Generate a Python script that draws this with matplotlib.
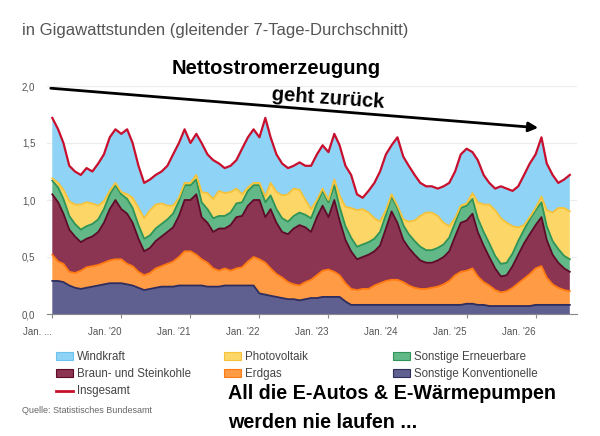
import numpy as np
import pandas as pd
import matplotlib
matplotlib.use('Agg')
import matplotlib.pyplot as plt
from matplotlib.patches import Patch, FancyArrowPatch
from matplotlib.lines import Line2D

plt.rcParams['font.family'] = ['Liberation Sans', 'DejaVu Sans']

# monthly readings (GWh, 7-day average), Jan 2019 .. Jul 2026
months = pd.date_range('2019-01-01', periods=91, freq='MS')

konventionelle = [
    .29, .29, .28, .25, .23, .22, .23, .24, .25, .26, .27, .27,
    .27, .26, .25, .23, .21, .22, .23, .24, .24, .24, .25, .25,
    .25, .25, .25, .24, .24, .24, .25, .25, .25, .25, .25, .25,
    .18, .17, .16, .15, .14, .13, .13, .12, .13, .14, .14, .15,
    .15, .15, .15, .11, .08, .08, .08, .08, .08, .08, .08, .08,
    .08, .08, .08, .08, .08, .08, .08, .08, .08, .08, .08, .08,
    .09, .09, .08, .08, .07, .07, .07, .07, .07, .07, .07, .07,
    .08, .08, .08, .08, .08, .08, .08]
erdgas = [
    .23, .17, .16, .12, .13, .16, .18, .18, .18, .19, .20, .21,
    .21, .18, .17, .14, .13, .14, .17, .18, .20, .22, .25, .30,
    .30, .27, .23, .21, .16, .14, .15, .13, .15, .16, .21, .25,
    .30, .28, .24, .20, .18, .15, .13, .13, .15, .16, .20, .23,
    .24, .22, .19, .16, .14, .13, .14, .14, .17, .19, .21, .22,
    .22, .20, .17, .15, .14, .14, .15, .16, .18, .21, .26, .29,
    .29, .31, .25, .20, .18, .14, .12, .13, .16, .20, .24, .28,
    .32, .34, .24, .18, .15, .13, .12]
kohle = [
    .53, .52, .44, .37, .32, .25, .25, .26, .29, .35, .45, .52,
    .44, .44, .38, .29, .21, .22, .24, .26, .28, .30, .36, .45,
    .45, .53, .37, .35, .32, .37, .35, .40, .45, .45, .49, .50,
    .52, .40, .52, .45, .40, .42, .49, .53, .48, .42, .51, .57,
    .46, .63, .48, .38, .33, .27, .28, .30, .30, .33, .46, .60,
    .50, .37, .33, .29, .25, .23, .22, .23, .24, .26, .34, .43,
    .44, .48, .39, .32, .25, .19, .14, .14, .19, .25, .31, .35,
    .38, .43, .33, .26, .22, .19, .17]
erneuerbare = [
    .12, .13, .13, .12, .11, .11, .11, .11, .11, .12, .13, .13,
    .13, .13, .13, .12, .11, .11, .11, .11, .11, .12, .13, .13,
    .13, .13, .13, .12, .12, .11, .11, .11, .12, .12, .13, .13,
    .13, .13, .12, .12, .12, .11, .11, .11, .11, .12, .12, .13,
    .13, .13, .12, .12, .12, .11, .11, .11, .11, .12, .12, .13,
    .13, .13, .12, .12, .12, .11, .11, .11, .11, .12, .12, .13,
    .13, .13, .12, .12, .12, .11, .11, .11, .11, .12, .12, .13,
    .13, .13, .12, .12, .12, .11, .11]
photovoltaik = [
    .02, .04, .08, .13, .17, .22, .21, .18, .12, .07, .03, .02,
    .02, .04, .09, .15, .18, .22, .21, .18, .12, .07, .03, .02,
    .02, .04, .09, .14, .17, .22, .20, .18, .13, .07, .03, .02,
    .02, .05, .11, .15, .20, .24, .24, .20, .13, .08, .03, .02,
    .02, .05, .10, .17, .26, .32, .31, .26, .18, .09, .04, .02,
    .02, .05, .11, .18, .27, .33, .33, .28, .19, .10, .04, .02,
    .02, .05, .14, .24, .34, .40, .40, .35, .24, .12, .04, .02,
    .02, .05, .14, .25, .36, .42, .42]
windkraft = [
    .53, .47, .41, .31, .29, .26, .30, .28, .37, .41, .47, .47,
    .51, .57, .48, .37, .31, .27, .26, .28, .35, .45, .48, .47,
    .35, .36, .43, .34, .34, .24, .22, .23, .25, .40, .44, .47,
    .40, .69, .40, .33, .28, .23, .20, .24, .30, .38, .40, .38,
    .42, .40, .44, .36, .29, .14, .10, .19, .31, .44, .49, .43,
    .60, .55, .49, .40, .29, .23, .23, .24, .32, .38, .41, .45,
    .48, .36, .37, .26, .19, .19, .28, .30, .31, .36, .44, .47,
    .47, .52, .41, .33, .22, .25, .32]
insgesamt = [
    1.72, 1.62, 1.50, 1.30, 1.25, 1.22, 1.28, 1.25, 1.32, 1.40, 1.55, 1.62,
    1.58, 1.62, 1.50, 1.30, 1.15, 1.18, 1.22, 1.25, 1.30, 1.40, 1.50, 1.62,
    1.50, 1.58, 1.50, 1.40, 1.35, 1.32, 1.28, 1.30, 1.35, 1.45, 1.55, 1.62,
    1.55, 1.72, 1.55, 1.40, 1.32, 1.28, 1.30, 1.33, 1.30, 1.30, 1.40, 1.48,
    1.42, 1.58, 1.48, 1.30, 1.22, 1.05, 1.02, 1.08, 1.15, 1.25, 1.40, 1.48,
    1.55, 1.38, 1.30, 1.22, 1.15, 1.12, 1.12, 1.10, 1.12, 1.15, 1.25, 1.40,
    1.45, 1.42, 1.35, 1.22, 1.15, 1.10, 1.12, 1.10, 1.08, 1.12, 1.22, 1.32,
    1.40, 1.55, 1.32, 1.22, 1.15, 1.18, 1.22]

tick_years = list(range(2019, 2027))
tick_labels = ["Jan. ..."] + [f"Jan. '{y % 100:02d}" for y in tick_years[1:]]

layers = [konventionelle, erdgas, kohle, erneuerbare, photovoltaik, windkraft]
fills = ['#5f6090', '#ff9a45', '#8b3552', '#62b887', '#fcd768', '#8fd3f6']
edges = ['#2d2d5e', '#ff7a10', '#5e0b2a', '#2f9458', '#f5c23a', '#8fd3f6']


def px(x, y):
    return x / 600, 1 - y / 436


fig = plt.figure(figsize=(6, 4.36), dpi=100)
ax = fig.add_axes([47 / 600, 1 - 314 / 436, 530 / 600, 228 / 436])

ax.stackplot(months, layers, colors=fills, linewidth=0)
tops = np.cumsum(layers, axis=0)
for top, c in zip(tops[:5], edges[:5]):
    ax.plot(months, top, color=c, lw=1.3)
ax.plot(months, insgesamt, color='#c8102e', lw=1.6)

ax.set_ylim(0, 2.0)
ax.set_xlim(pd.Timestamp('2018-12-04'), pd.Timestamp('2026-08-08'))
ax.set_yticks([0, 0.5, 1.0, 1.5, 2.0])
ax.set_yticklabels(['0,0', '0,5', '1,0', '1,5', '2,0'])
ax.set_xticks([pd.Timestamp(f'{y}-01-01') for y in tick_years])
ax.set_xticklabels(tick_labels, ha='right')
ax.tick_params(axis='y', length=0, pad=8.5, labelsize=7, labelcolor='#555555')
ax.tick_params(axis='x', length=3, color='#888888', labelsize=7,
               labelcolor='#555555', pad=6)
ax.grid(axis='y', color='#ececec', lw=0.8)
ax.set_axisbelow(True)
for s in ['top', 'right', 'left']:
    ax.spines[s].set_visible(False)
ax.spines['bottom'].set_color('#888888')

# header texts
fig.text(*px(22, 31), 'in Gigawattstunden (gleitender 7-Tage-Durchschnitt)',
         fontsize=12, color='#555555', va='center')
fig.text(*px(276, 68), 'Nettostromerzeugung', fontsize=14.5,
         fontweight='bold', ha='center', va='center')
fig.text(*px(328, 98), 'geht zurück', fontsize=14.5, fontweight='bold',
         ha='center', va='center', rotation=-4)
fig.add_artist(FancyArrowPatch(px(48, 88), px(541, 128),
                               transform=fig.transFigure, arrowstyle='-|>',
                               mutation_scale=14, lw=2, color='black'))

# legend, three columns
cols = [
    (56, [Patch(facecolor=fills[5], edgecolor='#6cc3f0', lw=0.8),
          Patch(facecolor=fills[2], edgecolor=edges[2], lw=0.8),
          Line2D([], [], color='#c8102e', lw=2)],
     ['Windkraft', 'Braun- und Steinkohle', 'Insgesamt']),
    (224, [Patch(facecolor=fills[4], edgecolor=edges[4], lw=0.8),
           Patch(facecolor=fills[1], edgecolor=edges[1], lw=0.8)],
     ['Photovoltaik', 'Erdgas']),
    (393, [Patch(facecolor=fills[3], edgecolor=edges[3], lw=0.8),
           Patch(facecolor=fills[0], edgecolor=edges[0], lw=0.8)],
     ['Sonstige Erneuerbare', 'Sonstige Konventionelle']),
]
for x0, handles, labels in cols:
    fig.legend(handles, labels, loc='upper left', bbox_to_anchor=px(x0, 351),
               frameon=False, fontsize=8.3, labelcolor='#444444',
               handlelength=1.45, handleheight=0.6, handletextpad=0.35,
               labelspacing=0.45, borderpad=0, borderaxespad=0)

fig.text(*px(22, 410), 'Quelle: Statistisches Bundesamt', fontsize=6.5,
         color='#666666', va='center')
fig.text(*px(228, 393), 'All die E-Autos & E-Wärmepumpen', fontsize=14.2,
         fontweight='bold', va='center')
fig.text(*px(228, 422), 'werden nie laufen ...', fontsize=14.2,
         fontweight='bold', va='center')

fig.savefig('out.png', dpi=100)
